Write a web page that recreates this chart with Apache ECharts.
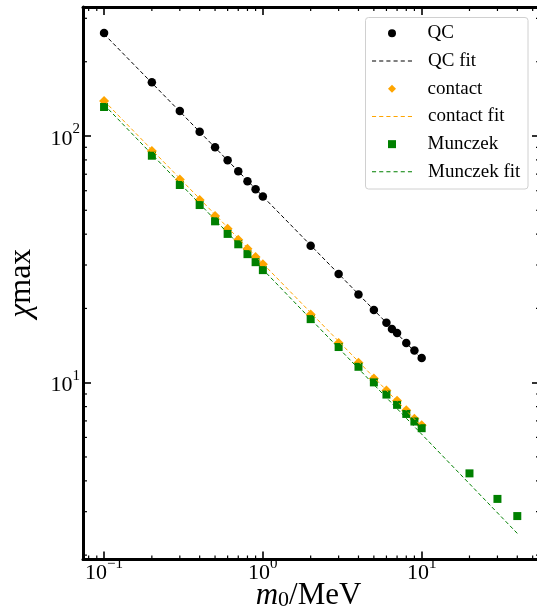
<!DOCTYPE html>
<html><head><meta charset="utf-8">
<script src="https://cdn.jsdelivr.net/npm/echarts@6/dist/echarts.min.js"></script>
<style>html,body{margin:0;padding:0;background:#fff}#c{width:537px;height:609px}</style>
</head><body><div id="c"></div>
<script>
// ---- data ----
const qcX = [0.1,0.2,0.3,0.4,0.5,0.6,0.7,0.8,0.9,1,2,3,4,5,6,6.5,7,8,9,10];
const qcY = [261.6,165.1,126.3,104.1,90.0,79.7,71.9,65.5,60.8,56.8,35.9,27.6,22.8,19.7,17.5,16.5,15.9,14.5,13.5,12.6];
const contactX = [0.1,0.2,0.3,0.4,0.5,0.6,0.7,0.8,0.9,1,2,3,4,5,6,7,8,9,10];
const contactY = [138.7,87.0,66.6,55.0,47.4,42.1,38.0,34.9,32.3,30.2,18.9,14.5,12.05,10.4,9.29,8.44,7.73,7.15,6.73];
const munczekX = [0.1,0.2,0.3,0.4,0.5,0.6,0.7,0.8,0.9,1,2,3,4,5,6,7,8,9,10,20,30,40];
const munczekY = [131.1,83.2,63.3,52.5,45.1,40.1,36.4,33.2,30.8,28.6,18.1,13.95,11.6,10.03,8.95,8.13,7.47,6.96,6.54,4.29,3.38,2.88];
const qcFitX = [0.1, 10];
const qcFitY = [259, 12.5];
const contactFitX = [0.1, 10];
const contactFitY = [139, 6.65];
const munczekFitX = [0.1, 40];
const munczekFitY = [134, 2.45];
const seriesNames = ['QC','QC fit','contact','contact fit','Munczek','Munczek fit'];
const xRange = [0.0737, 55.6];
const yRange = [1.92, 333.4];
const xMinorTicks = [0.08,0.09,0.2,0.3,0.4,0.5,0.6,0.7,0.8,0.9,2,3,4,5,6,7,8,9,20,30,40,50];
const yMinorTicks = [2,3,4,5,6,7,8,9,20,30,40,50,60,70,80,90,200,300];

const zip = (xs, ys) => xs.map((x, i) => [x, ys[i]]);
const FONT = '"Liberation Serif", "DejaVu Serif", serif';
const DASH_ICON = 'path://M0,0h4v1h-4zM7,0h4v1h-4zM14,0h4v1h-4zM21,0h4v1h-4zM28,0h4v1h-4zM35,0h4v1h-4z';

function powLabel(v) {
  const e = Math.log10(v);
  const r = Math.round(e);
  if (Math.abs(e - r) > 1e-6) return '';
  const ex = r < 0 ? '\u2212' + (-r) : String(r);
  return '{b|10}{s|' + ex + '}';
}
const labelRich = {
  b: {fontFamily: FONT, fontSize: 22, lineHeight: 28, verticalAlign: 'bottom', color: '#000'},
  s: {fontFamily: FONT, fontSize: 15, lineHeight: 15, verticalAlign: 'top', color: '#000'}
};

const chart = echarts.init(document.getElementById('c'), null, {renderer: 'canvas'});
const axisLineStyle = {show: true, onZero: false, lineStyle: {color: '#000', width: 3}};
const majorTick = {show: true, inside: true, length: 8, lineStyle: {color: '#000', width: 1.6}};
const legendBase = {
  orient: 'vertical', padding: 0, selectedMode: false, itemGap: 27.7
};

const option = {
  animation: false,
  backgroundColor: '#fff',
  grid: {left: 83, top: 7, right: -3, bottom: 49.5, containLabel: false, outerBoundsMode: 'none'},
  xAxis: [
    {type: 'log', logBase: 10, min: xRange[0], max: xRange[1], position: 'bottom',
     axisLine: axisLineStyle, axisTick: majorTick, splitLine: {show: false},
     axisLabel: {formatter: powLabel, rich: labelRich, margin: -3, showMinLabel: false, showMaxLabel: false},
     name: '{i|m}{sub|0}{n|/MeV}', nameLocation: 'middle', nameGap: 18, nameMoveOverlap: false,
     nameTextStyle: {padding: [0, 6, 0, 0], rich: {
       i: {fontFamily: FONT, fontSize: 31, fontStyle: 'italic', color: '#000', verticalAlign: 'bottom', lineHeight: 34},
       sub: {fontFamily: FONT, fontSize: 22, color: '#000', verticalAlign: 'bottom', lineHeight: 26},
       n: {fontFamily: FONT, fontSize: 31, color: '#000', verticalAlign: 'bottom', lineHeight: 34}
     }}},
    {type: 'log', logBase: 10, min: xRange[0], max: xRange[1], position: 'top',
     axisLine: axisLineStyle, axisTick: majorTick, splitLine: {show: false}, axisLabel: {show: false}}
  ],
  yAxis: [
    {type: 'log', logBase: 10, min: yRange[0], max: yRange[1], position: 'left',
     axisLine: axisLineStyle, axisTick: majorTick, splitLine: {show: false},
     axisLabel: {formatter: powLabel, rich: labelRich, margin: 3, showMinLabel: false, showMaxLabel: false},
     name: '{c|\u03c7}{m|max}', nameLocation: 'middle', nameGap: 45, nameRotate: 90, nameMoveOverlap: false,
     nameTextStyle: {rich: {
       c: {fontFamily: FONT, fontSize: 32, fontStyle: 'italic', color: '#000'},
       m: {fontFamily: FONT, fontSize: 32, color: '#000'}
     }}},
    {type: 'log', logBase: 10, min: yRange[0], max: yRange[1], position: 'right',
     axisLine: axisLineStyle, axisTick: majorTick, splitLine: {show: false}, axisLabel: {show: false}}
  ],
  legend: [
    Object.assign({}, legendBase, {
      left: 388, top: 19.5, itemWidth: 8, itemHeight: 8,
      textStyle: {fontFamily: FONT, fontSize: 19, color: '#000', lineHeight: 27.7, padding: [0, 0, 0, 26.5]},
      data: [{name: seriesNames[0], icon: 'circle'},
             {name: seriesNames[2], icon: 'diamond'},
             {name: seriesNames[4], icon: 'rect'}]
    }),
    Object.assign({}, legendBase, {
      left: 372, top: 47.2, itemWidth: 40, itemHeight: 1.1,
      textStyle: {fontFamily: FONT, fontSize: 19, color: '#000', lineHeight: 27.7, padding: [0, 0, 0, 11]},
      data: [{name: seriesNames[1], icon: DASH_ICON},
             {name: seriesNames[3], icon: DASH_ICON},
             {name: seriesNames[5], icon: DASH_ICON}]
    })
  ],
  series: [
    {name: seriesNames[0], type: 'scatter', data: zip(qcX, qcY), symbol: 'circle', symbolSize: 8.5,
     itemStyle: {color: '#000', opacity: 1}},
    {name: seriesNames[1], type: 'line', data: zip(qcFitX, qcFitY), symbol: 'none', showSymbol: false,
     lineStyle: {color: '#000', width: 1, type: [4, 2.5]}, itemStyle: {color: '#000'}},
    {name: seriesNames[2], type: 'scatter', data: zip(contactX, contactY), symbol: 'diamond', symbolSize: 10,
     itemStyle: {color: '#ffa500', opacity: 1}},
    {name: seriesNames[3], type: 'line', data: zip(contactFitX, contactFitY), symbol: 'none', showSymbol: false,
     lineStyle: {color: '#ffa500', width: 1, type: [4, 2.5]}, itemStyle: {color: '#ffa500'}},
    {name: seriesNames[4], type: 'scatter', data: zip(munczekX, munczekY), symbol: 'rect', symbolSize: 8,
     itemStyle: {color: '#008000', opacity: 1}},
    {name: seriesNames[5], type: 'line', data: zip(munczekFitX, munczekFitY), symbol: 'none', showSymbol: false,
     lineStyle: {color: '#008000', width: 1, type: [4, 2.5]}, itemStyle: {color: '#008000'}}
  ]
};
chart.setOption(option);

// minor ticks and legend frame placed through the library's own axis scales
function addDecor() {
  const g = [];
  const L = chart.convertToPixel({xAxisIndex: 0}, xRange[0]);
  const R = chart.convertToPixel({xAxisIndex: 0}, xRange[1]);
  const B = chart.convertToPixel({yAxisIndex: 0}, yRange[0]);
  const T = chart.convertToPixel({yAxisIndex: 0}, yRange[1]);
  const len = 4, st = {stroke: '#000', lineWidth: 1.2};
  xMinorTicks.forEach(v => {
    const x = chart.convertToPixel({xAxisIndex: 0}, v);
    g.push({type: 'line', silent: true, shape: {x1: x, y1: B, x2: x, y2: B - len}, style: st});
    g.push({type: 'line', silent: true, shape: {x1: x, y1: T, x2: x, y2: T + len}, style: st});
  });
  yMinorTicks.forEach(v => {
    const y = chart.convertToPixel({yAxisIndex: 0}, v);
    g.push({type: 'line', silent: true, shape: {x1: L, y1: y, x2: L + len, y2: y}, style: st});
    g.push({type: 'line', silent: true, shape: {x1: R, y1: y, x2: R - len, y2: y}, style: st});
  });
  g.push({type: 'rect', silent: true, z: 0, zlevel: 0,
          shape: {x: 365.5, y: 17.5, width: 162.5, height: 171.5, r: 3},
          style: {fill: '#fff', stroke: '#d0d0d0', lineWidth: 1}});
  chart.setOption({graphic: g});
}
addDecor();
</script>
</body></html>
